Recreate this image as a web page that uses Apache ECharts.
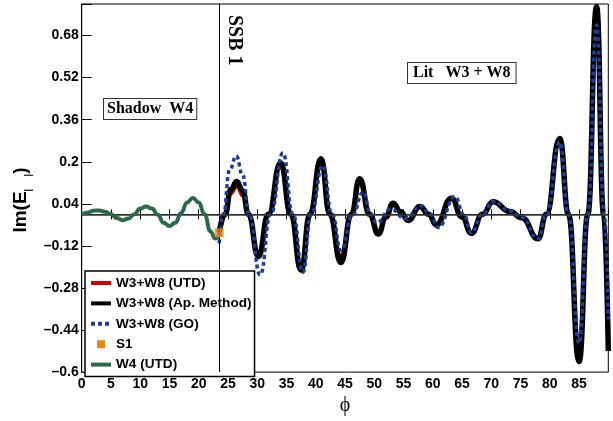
<!DOCTYPE html>
<html><head><meta charset="utf-8">
<script src="https://cdn.jsdelivr.net/npm/echarts@6/dist/echarts.min.js"></script>
<style>html,body{margin:0;padding:0;background:#fff}#c{width:613px;height:421px}</style>
</head><body><div id="c"></div>
<script>
// ---- axis ranges / tick spacing ----
const xMin = 0, xMax = 90, xStep = 5;
const yMin = -0.6, yMax = 0.8, yStep = 0.16;
const ssbPhi = 23.5;

// ---- series names ----
const names = ['W3+W8 (UTD)','W3+W8 (Ap. Method)','W3+W8 (GO)','S1','W4 (UTD)'];

// ---- W3+W8 (UTD) ----
const utdPhi = [23.5,24.5,25.5,26.5,27.5,28.4,30.2,31.9,34.0,35.7,37.5,39.0,40.9,42.4,44.3,46.0,47.5,49.1,50.7,52.0,53.2,54.5,55.8,57.8,59.3,60.6,63.2,65.0,66.6,68.5,70.3,73.2,75.2,78.0,79.4,81.7,83.2,85.0,86.5,88.0,89.2,90.0];
const utdIm  = [-0.07,0.0,0.078,0.104,0.07,0.0,-0.143,0.0,0.177,0.0,-0.186,0.0,0.19,0.0,-0.155,0.0,0.116,0.0,-0.068,-0.01,0.038,0.01,-0.02,0.03,0.0,-0.038,0.06,-0.01,-0.07,0.0,0.048,0.01,-0.015,-0.09,0.0,0.272,0.0,-0.51,0.0,0.70,0.0,-0.45];

// ---- W3+W8 (Ap. Method) ----
const apPhi = [23.5,24.5,25.5,26.5,27.5,28.5,30.2,31.9,34.0,35.75,37.5,39.0,40.9,42.4,44.3,46.1,47.5,49.2,50.7,52.0,53.2,54.5,55.8,57.8,59.3,60.6,63.2,65.0,66.6,68.5,70.3,73.2,75.2,78.0,79.4,81.7,83.2,85.0,86.5,88.0,89.2,90.0];
const apIm  = [-0.07,0.0,0.095,0.125,0.09,0.0,-0.161,0.0,0.196,0.0,-0.213,0.0,0.211,0.0,-0.183,0.0,0.135,0.0,-0.075,-0.01,0.042,0.01,-0.023,0.03,0.0,-0.04,0.061,-0.01,-0.072,0.0,0.048,0.011,-0.013,-0.093,0.0,0.288,0.0,-0.56,0.0,0.79,0.0,-0.52];

// ---- W3+W8 (GO) ----
const goPhi = [23.5,24.2,25.3,26.4,27.5,28.6,30.5,32.3,34.4,36.1,37.8,39.2,41.2,42.8,44.3,46.3,48.1,49.4,50.4,52.8,55.3,58.0,59.6,60.9,63.8,65.3,66.6,68.5,70.3,73.2,75.2,78.0,79.4,81.7,83.2,85.0,86.5,88.0,89.3,90.0];
const goIm  = [-0.11,0.0,0.17,0.222,0.15,0.0,-0.23,0.0,0.233,0.0,-0.22,0.0,0.185,0.0,-0.137,0.0,0.085,0.0,-0.032,0.02,-0.016,0.033,0.0,-0.05,0.067,0.0,-0.07,0.0,0.05,0.013,-0.012,-0.093,0.0,0.275,0.0,-0.49,0.0,0.72,0.0,-0.40];

// ---- S1 ----
const s1Phi = [23.5];
const s1Im  = [-0.07];

// ---- W4 (UTD) ----
const w4Phi = [0,1,2,3,4,5,6,7,8,9,10,11,12,13,14,15,16,17,18,19,20,21,22,22.8,23.5];
const w4Im  = [-0.003,0.007,0.014,0.015,0.010,0.000,-0.014,-0.022,-0.016,0.000,0.022,0.030,0.022,-0.002,-0.032,-0.044,-0.032,0.005,0.045,0.062,0.045,0.000,-0.065,-0.092,-0.078];

const zip = (a,b) => a.map((v,i)=>[v,b[i]]);
const fmtY = v => parseFloat(v.toFixed(2)).toString().replace('-', '\u2013');
const labelFont = {fontFamily:'Liberation Sans', fontWeight:'bold', fontSize:14, color:'#000'};
// tick-only axes pulled 5px into the plot so their outward ticks end on the frame (inner ticks)
const tickAxisX = pos => ({type:'value', min:xMin, max:xMax, interval:xStep, position:pos, offset:-5,
  axisLine:{show:false}, axisTick:{show:true, length:5, lineStyle:{color:'#000', width:1}},
  axisLabel:{show:false}, splitLine:{show:false}});
const tickAxisY = pos => ({type:'value', min:yMin, max:yMax, interval:yStep, position:pos, offset:-5,
  axisLine:{show:false}, axisTick:{show:true, length:5, lineStyle:{color:'#000', width:1}},
  axisLabel:{show:false}, splitLine:{show:false}});

const chart = echarts.init(document.getElementById('c'), null, {renderer:'canvas'});
chart.setOption({
  animation:false,
  backgroundColor:'#fff',
  grid:{left:81.7, right:4.7, top:4, bottom:39, containLabel:false,
        show:true, borderColor:'#000', borderWidth:1, backgroundColor:'transparent'},
  xAxis:[{
    type:'value', min:xMin, max:xMax, interval:xStep, position:'bottom',
    name:'\u03d5', nameLocation:'middle', nameGap:15,
    nameTextStyle:{fontFamily:'Liberation Serif', fontSize:20, color:'#000'},
    axisLine:{lineStyle:{color:'#000', width:1}},
    axisTick:{show:false},
    axisLabel:Object.assign({margin:5, showMaxLabel:false}, labelFont),
    splitLine:{show:false}
  }, tickAxisX('top'), tickAxisX('bottom')],
  yAxis:[{
    type:'value', min:yMin, max:yMax, interval:yStep, position:'left',
    name:'{a|Im(E}{s||     |}{a|)}', nameLocation:'middle', nameGap:41, nameRotate:90,
    nameTextStyle:{fontFamily:'Liberation Sans', fontWeight:'bold', fontSize:19, color:'#000', padding:[0,24,0,0],
      rich:{
        a:{fontFamily:'Liberation Sans', fontWeight:'bold', fontSize:19, color:'#000'},
        s:{fontFamily:'Liberation Sans', fontWeight:'bold', fontSize:9, color:'#000', padding:[16,0,0,0]}
      }},
    axisLine:{lineStyle:{color:'#000', width:1}},
    axisTick:{show:false},
    axisLabel:Object.assign({margin:3, formatter:fmtY, showMaxLabel:false}, labelFont),
    splitLine:{show:false}
  }, tickAxisY('right'), tickAxisY('left')],
  legend:{
    orient:'vertical', left:85, top:271,
    itemWidth:20, itemHeight:8, itemGap:6.4,
    padding:[5,3,5,4],
    backgroundColor:'#fff', borderColor:'#000', borderWidth:1.5,
    itemStyle:{opacity:0},
    lineStyle:{width:4},
    textStyle:Object.assign({}, labelFont, {fontSize:13.6}),
    data:[
      {name:names[0]},
      {name:names[1]},
      {name:names[2]},
      {name:names[3], icon:'path://M0,0h8v8h-8z', itemStyle:{opacity:1, color:'#e8890f'}},
      {name:names[4]}
    ]
  },
  series:[
    {name:names[0], type:'line', data:zip(utdPhi,utdIm), symbol:'none', smooth:0.5, smoothMonotone:'x',
     lineStyle:{color:'#d40000', width:3}, itemStyle:{color:'#d40000'}, z:2,
     markLine:{silent:true, symbol:['none','none'], label:{show:false}, animation:false,
       data:[{xAxis:ssbPhi, lineStyle:{color:'#000', width:1, type:'solid'}},
             {yAxis:0, lineStyle:{color:'#3a3a3a', width:1.5, type:'solid'}}]}},
    {name:names[1], type:'line', data:zip(apPhi,apIm), symbol:'none', smooth:0.5, smoothMonotone:'x',
     lineStyle:{color:'#000', width:5.5}, itemStyle:{color:'#000'}, z:3},
    {name:names[2], type:'line', data:zip(goPhi,goIm), symbol:'none', smooth:0.5, smoothMonotone:'x',
     lineStyle:{color:'#1c3c99', width:3.5, type:[4,3], cap:'butt'}, itemStyle:{color:'#1c3c99'}, z:4},
    {name:names[3], type:'scatter', data:zip(s1Phi,s1Im), symbol:'rect', symbolSize:9,
     itemStyle:{color:'#e8890f'}, z:6},
    {name:names[4], type:'line', data:zip(w4Phi,w4Im), symbol:'none', smooth:0.5, smoothMonotone:'x',
     lineStyle:{color:'#2d6a4a', width:4}, itemStyle:{color:'#2d6a4a'}, z:5}
  ],
  graphic:[
    {type:'text', x:104, y:99, z:10, style:{text:'Shadow  W4', font:'bold 16px "Liberation Serif"', fill:'#000',
      backgroundColor:'#fff', borderColor:'#333', borderWidth:1, padding:[2,3,2,3], align:'left', verticalAlign:'top'}},
    {type:'text', x:408, y:63, z:10, style:{text:'Lit   W3 + W8', font:'bold 16px "Liberation Serif"', fill:'#000',
      backgroundColor:'#fff', borderColor:'#333', borderWidth:1, padding:[2,5,2,5], align:'left', verticalAlign:'top'}},
    {type:'text', x:234, y:15, rotation:-Math.PI/2, z:10, style:{text:'SSB 1', font:'bold 20px "Liberation Serif"', fill:'#000',
      align:'left', verticalAlign:'middle'}}
  ]
});
</script>
</body></html>
